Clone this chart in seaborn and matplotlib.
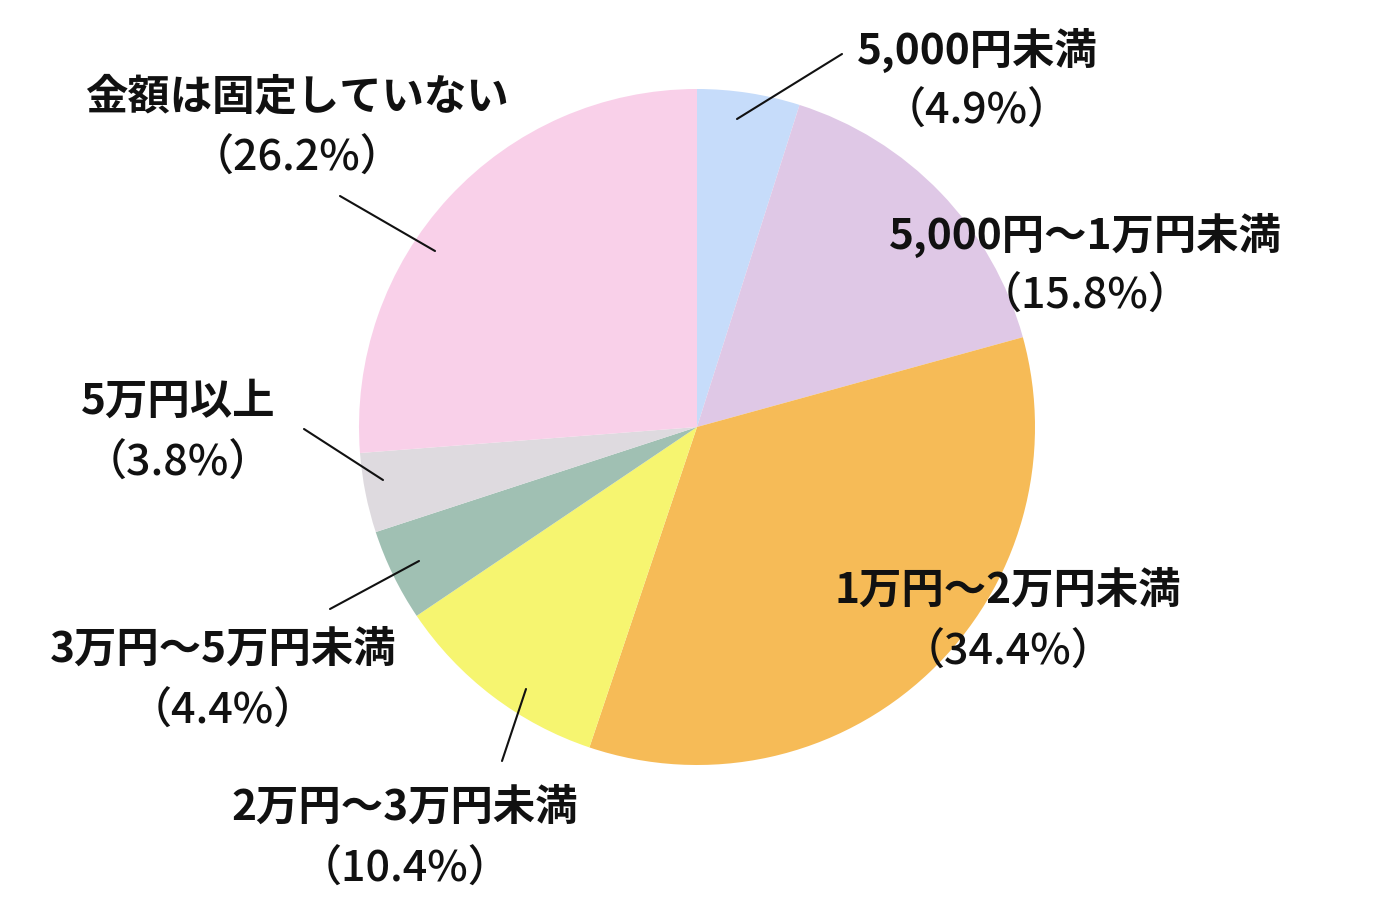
import matplotlib
matplotlib.use("Agg")
import matplotlib.pyplot as plt
import seaborn as sns

# データ
labels = ["5,000円未満", "5,000円～1万円未満", "1万円～2万円未満", "2万円～3万円未満",
          "3万円～5万円未満", "5万円以上", "金額は固定していない"]
shares = [4.9, 15.8, 34.4, 10.4, 4.4, 3.8, 26.2]
colors = ["#c6dcfa", "#dfc8e6", "#f6bb57", "#f6f570", "#a0c0b3", "#dedadf", "#f9d0e9"]

sns.set_theme(style="white")
plt.rcParams["font.family"] = ["Noto Sans CJK JP", "DejaVu Sans"]

W, H = 1380, 920
fig = plt.figure(figsize=(13.8, 9.2), dpi=100)
ax = fig.add_axes([0, 0, 1, 1])

# 円グラフ (画像座標: 中心 697,428 半径 338)
ax.pie(shares, colors=colors, startangle=90, counterclock=False,
       center=(697, H - 428), radius=338, frame=True,
       wedgeprops=dict(linewidth=0))
ax.set_xlim(0, W)
ax.set_ylim(0, H)
ax.axis("off")

# ラベル位置 (画像座標)
label_pos = [(977, 50), (1085, 235), (1008, 591), (405, 808),
             (223, 650), (178, 402), (297, 97)]
# 引き出し線 (画像座標)
leaders = {0: ((737, 120), (842, 55)),
           3: ((526, 690), (502, 762)),
           4: ((419, 562), (330, 610)),
           5: ((383, 481), (304, 430)),
           6: ((435, 252), (340, 197))}

for i, (lab, val) in enumerate(zip(labels, shares)):
    x, y = label_pos[i]
    ax.text(x, H - y, lab, ha="center", va="center", fontsize=30.5,
            fontweight="bold", color="#111111")
    ax.text(x, H - y - 61, f"（{val:.1f}%）", ha="center", va="center",
            fontsize=31, fontweight="medium", color="#111111")
    if i in leaders:
        (x0, y0), (x1, y1) = leaders[i]
        ax.plot([x0, x1], [H - y0, H - y1], color="#111111", lw=1.5)

fig.savefig("out.png", dpi=100, facecolor="white")
